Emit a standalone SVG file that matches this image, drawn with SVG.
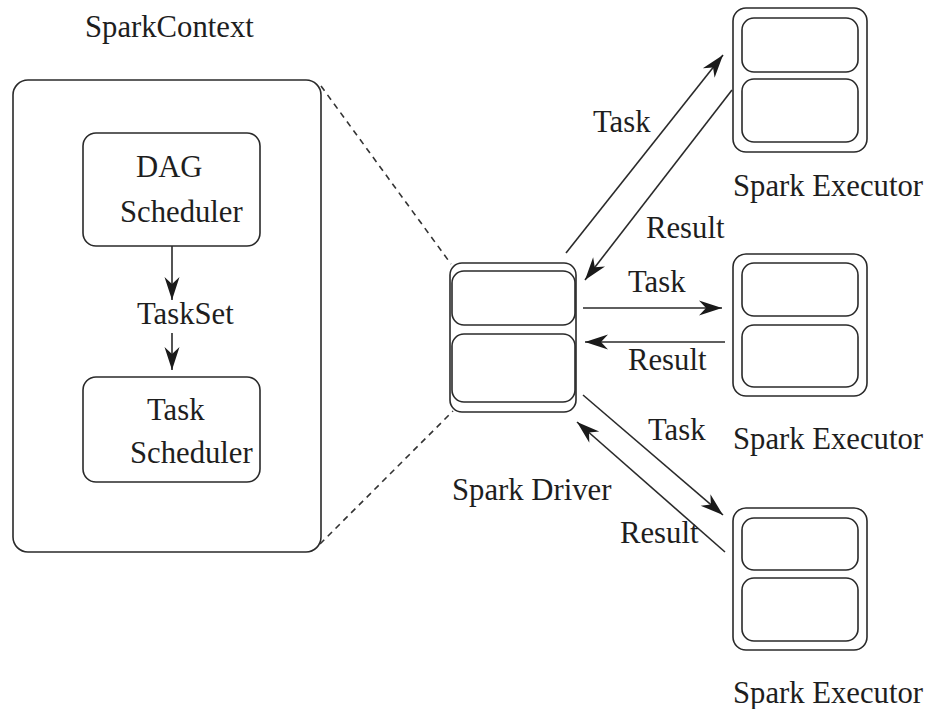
<svg xmlns="http://www.w3.org/2000/svg" width="930" height="709" viewBox="0 0 930 709">
<style>
  .box { fill: none; stroke: #2a2a2a; stroke-width: 1.6; }
  .lbl { font-family: "Liberation Serif", "Times New Roman", serif; font-size: 30.7px; fill: #1e1e1e; }
  .arr { stroke: #2a2a2a; stroke-width: 1.6; fill: none; marker-end: url(#ah); }
  .dash { stroke: #333; stroke-width: 1.6; fill: none; stroke-dasharray: 6 5; }
</style>
<defs>
  <marker id="ah" markerUnits="userSpaceOnUse" viewBox="-24 -9 26 18" refX="0" refY="0" markerWidth="26" markerHeight="18" orient="auto">
    <path d="M0,0 L-23,-7.5 L-16,0 L-23,7.5 Z" fill="#1a1a1a"/>
  </marker>
</defs>
<rect width="930" height="709" fill="#fff"/>

<text class="lbl" x="85" y="37">SparkContext</text>

<g id="sparkcontext">
  <rect class="box" x="13" y="80" width="308" height="472" rx="15"/>
</g>

<g id="dag-scheduler">
  <rect class="box" x="83" y="133" width="177" height="113" rx="13"/>
  <text class="lbl" x="136" y="177">DAG</text>
  <text class="lbl" x="120" y="222">Scheduler</text>
</g>

<g id="task-scheduler">
  <rect class="box" x="83" y="377" width="177" height="105" rx="13"/>
  <text class="lbl" x="147" y="420">Task</text>
  <text class="lbl" x="130" y="463">Scheduler</text>
</g>

<g id="spark-driver">
  <rect class="box" x="450" y="263" width="126" height="149" rx="12"/>
  <rect class="box" x="452" y="271" width="123" height="54" rx="12"/>
  <rect class="box" x="452" y="334" width="123" height="68" rx="12"/>
  <text class="lbl" x="452" y="500">Spark Driver</text>
</g>

<g id="executor-1">
  <rect class="box" x="733" y="8" width="134" height="144" rx="13"/>
  <rect class="box" x="742" y="18" width="116" height="54" rx="12"/>
  <rect class="box" x="742" y="79" width="116" height="63" rx="12"/>
  <text class="lbl" x="733" y="196">Spark Executor</text>
</g>

<g id="executor-2">
  <rect class="box" x="733" y="254" width="134" height="142" rx="13"/>
  <rect class="box" x="742" y="263" width="116" height="53" rx="12"/>
  <rect class="box" x="742" y="325" width="116" height="62" rx="12"/>
  <text class="lbl" x="733" y="449">Spark Executor</text>
</g>

<g id="executor-3">
  <rect class="box" x="733" y="508" width="134" height="142" rx="13"/>
  <rect class="box" x="742" y="518" width="116" height="52" rx="12"/>
  <rect class="box" x="742" y="578" width="116" height="63" rx="12"/>
  <text class="lbl" x="733" y="703">Spark Executor</text>
</g>

<g id="connectors">
  <line class="dash" x1="321" y1="86" x2="451" y2="264"/>
  <line class="dash" x1="320" y1="544" x2="453" y2="411"/>

  <line class="arr" x1="172" y1="246" x2="172" y2="300"/>
  <line class="arr" x1="172" y1="333" x2="172" y2="370"/>

  <line class="arr" x1="566" y1="253" x2="723" y2="55"/>
  <line class="arr" x1="732" y1="90" x2="585" y2="280"/>
  <line class="arr" x1="583" y1="308" x2="722" y2="308"/>
  <line class="arr" x1="725" y1="342" x2="585" y2="342"/>
  <line class="arr" x1="583" y1="395" x2="723" y2="515"/>
  <line class="arr" x1="725" y1="552" x2="577" y2="422"/>

  <text class="lbl" x="137" y="324">TaskSet</text>
  <text class="lbl" x="593" y="132">Task</text>
  <text class="lbl" x="646" y="238">Result</text>
  <text class="lbl" x="628" y="292">Task</text>
  <text class="lbl" x="628" y="370">Result</text>
  <text class="lbl" x="648" y="440">Task</text>
  <text class="lbl" x="620" y="543">Result</text>
</g>
</svg>
